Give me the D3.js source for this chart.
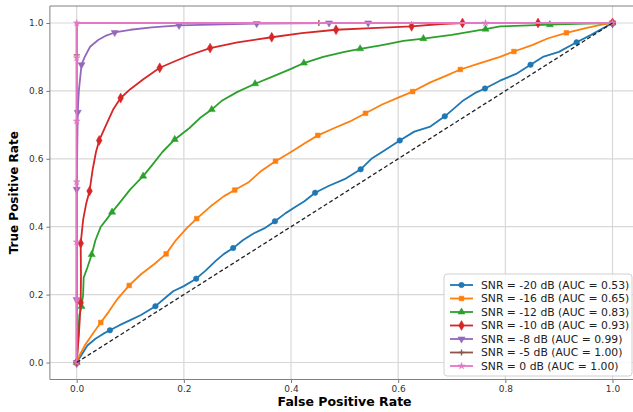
<!DOCTYPE html>
<html>
<head>
<meta charset="utf-8">
<script src="https://cdn.jsdelivr.net/npm/d3@7"></script>
<style>
  body { margin: 0; background: #fff; }
  svg { display: block; font-family: "DejaVu Sans", sans-serif; }
</style>
</head>
<body>
<svg width="633" height="412"></svg>
<script>
const WIDTH = 633
const HEIGHT = 412
const LEFT = 49.9
const RIGHT = 639.3
const TOP = 6
const BOTTOM = 379.5

// legend labels
const labels = [
    "SNR = -20 dB (AUC = 0.53)",
    "SNR = -16 dB (AUC = 0.65)",
    "SNR = -12 dB (AUC = 0.83)",
    "SNR = -10 dB (AUC = 0.93)",
    "SNR = -8 dB (AUC = 0.99)",
    "SNR = -5 dB (AUC = 1.00)",
    "SNR = 0 dB (AUC = 1.00)"
]
const colors = ["#1f77b4", "#ff7f0e", "#2ca02c", "#d62728", "#9467bd", "#8c564b", "#e377c2"]
const markers = ["circle", "square", "up", "diamond", "down", "plus", "star"]
const tickValues = [0, 0.2, 0.4, 0.6, 0.8, 1.0]

// roc curves, [fpr, tpr]
const roc20 = [[0,0],[0.01,0.025],[0.02,0.05],[0.035,0.07],[0.05,0.085],[0.062,0.095],[0.08,0.11],[0.1,0.125],
    [0.12,0.14],[0.147,0.166],[0.165,0.19],[0.18,0.21],[0.2,0.225],[0.223,0.247],[0.24,0.27],[0.26,0.3],
    [0.275,0.32],[0.292,0.337],[0.31,0.36],[0.33,0.38],[0.35,0.395],[0.37,0.416],[0.39,0.44],[0.41,0.46],
    [0.425,0.475],[0.445,0.5],[0.47,0.52],[0.5,0.54],[0.53,0.569],[0.55,0.6],[0.575,0.625],[0.603,0.654],
    [0.63,0.68],[0.66,0.695],[0.687,0.725],[0.72,0.77],[0.745,0.795],[0.762,0.807],[0.79,0.83],[0.82,0.85],
    [0.847,0.877],[0.87,0.9],[0.9,0.915],[0.933,0.943],[0.96,0.965],[1,1]]
const roc20Marks = [[0,0],[0.062,0.095],[0.147,0.166],[0.223,0.247],[0.292,0.337],[0.37,0.416],[0.445,0.5],
    [0.53,0.569],[0.603,0.654],[0.687,0.725],[0.762,0.807],[0.847,0.877],[0.933,0.943],[1,1]]

const roc16 = [[0,0],[0.005,0.02],[0.015,0.05],[0.03,0.085],[0.045,0.118],[0.06,0.15],[0.075,0.185],[0.098,0.227],
    [0.12,0.26],[0.145,0.29],[0.167,0.32],[0.185,0.36],[0.205,0.395],[0.224,0.424],[0.25,0.46],[0.275,0.49],
    [0.295,0.508],[0.32,0.53],[0.345,0.565],[0.371,0.593],[0.4,0.62],[0.425,0.645],[0.45,0.669],[0.48,0.69],
    [0.51,0.71],[0.539,0.734],[0.57,0.76],[0.6,0.78],[0.627,0.798],[0.66,0.825],[0.69,0.845],[0.716,0.863],
    [0.75,0.88],[0.79,0.9],[0.816,0.916],[0.85,0.935],[0.88,0.955],[0.914,0.971],[0.95,0.985],[0.98,0.995],[1,1]]
const roc16Marks = [[0,0],[0.045,0.118],[0.098,0.227],[0.167,0.32],[0.224,0.424],[0.295,0.508],[0.371,0.593],
    [0.45,0.669],[0.539,0.734],[0.627,0.798],[0.716,0.863],[0.816,0.916],[0.914,0.971],[1,1]]

const roc12 = [[0,0],[0.003,0.08],[0.005,0.14],[0.009,0.165],[0.012,0.2],[0.013,0.25],[0.02,0.28],[0.028,0.318],
    [0.035,0.36],[0.045,0.4],[0.055,0.42],[0.066,0.443],[0.08,0.47],[0.1,0.51],[0.124,0.549],[0.14,0.58],
    [0.16,0.62],[0.183,0.657],[0.21,0.69],[0.23,0.72],[0.252,0.745],[0.27,0.77],[0.3,0.797],[0.333,0.821],
    [0.37,0.845],[0.4,0.865],[0.424,0.882],[0.46,0.9],[0.5,0.915],[0.529,0.924],[0.57,0.935],[0.61,0.947],
    [0.647,0.954],[0.7,0.965],[0.763,0.982],[0.79,0.99],[0.883,0.995],[0.95,0.998],[1,1]]
const roc12Marks = [[0,0],[0.009,0.165],[0.028,0.318],[0.066,0.443],[0.124,0.549],[0.183,0.657],[0.252,0.745],
    [0.333,0.821],[0.424,0.882],[0.529,0.924],[0.647,0.954],[0.763,0.982],[0.883,0.995],[1,1]]

const roc10 = [[0,0],[0.004,0.08],[0.0075,0.176],[0.008,0.26],[0.0075,0.351],[0.012,0.42],[0.018,0.47],
    [0.024,0.505],[0.03,0.57],[0.036,0.62],[0.042,0.654],[0.055,0.7],[0.068,0.745],[0.082,0.779],[0.1,0.805],
    [0.125,0.835],[0.155,0.868],[0.18,0.885],[0.21,0.905],[0.249,0.926],[0.3,0.943],[0.364,0.958],[0.42,0.97],
    [0.484,0.98],[0.55,0.985],[0.625,0.99],[0.68,0.997],[0.72,1],[1,1]]
const roc10Marks = [[0,0],[0.0075,0.176],[0.0075,0.351],[0.024,0.505],[0.042,0.654],[0.082,0.779],[0.155,0.868],
    [0.249,0.926],[0.364,0.958],[0.484,0.98],[0.625,0.99],[0.72,1],[0.861,1],[1,1]]

const roc8 = [[0,0],[0,0.185],[0,0.51],[0.002,0.737],[0.004,0.8],[0.009,0.877],[0.015,0.9],[0.025,0.93],
    [0.04,0.95],[0.055,0.963],[0.071,0.972],[0.1,0.98],[0.14,0.987],[0.191,0.993],[0.336,0.998],[0.471,1],[1,1]]
const roc8Marks = [[0,0],[0,0.185],[0,0.51],[0.002,0.737],[0.009,0.877],[0.071,0.972],[0.191,0.993],
    [0.336,0.998],[0.471,1],[0.544,1],[1,1]]

const roc5 = [[0,0],[0,0.906],[0,1],[1,1]]
const roc5Marks = [[0,0],[0,0.906],[0.452,1],[1,1]]

const roc0 = [[0,0],[0,1],[1,1]]
const roc0Marks = [[0,0],[0,0.188],[0,0.355],[0,0.532],[0,0.711],[0,0.897],[0,1],[0.763,1],[1,1]]

const curves = [roc20, roc16, roc12, roc10, roc8, roc5, roc0]
const curveMarks = [roc20Marks, roc16Marks, roc12Marks, roc10Marks, roc8Marks, roc5Marks, roc0Marks]

const series = labels.map((label, i) => ({
    label: label,
    color: colors[i],
    marker: markers[i],
    points: curves[i],
    marks: curveMarks[i]
}))

const svg = d3.select("svg")
svg.append("rect").attr("width", WIDTH).attr("height", HEIGHT).attr("fill", "#fff")

const x = d3.scaleLinear().domain([-0.05, 1.05]).range([LEFT, RIGHT])
const y = d3.scaleLinear().domain([-0.05, 1.05]).range([BOTTOM, TOP])

// grid
const grid = svg.append("g")
    .attr("stroke", "#d8d8d8")
    .attr("stroke-width", 1.2)
grid.selectAll("line.gx")
    .data(tickValues)
    .join("line")
    .classed("gx", true)
    .attr("x1", d => x(d)).attr("x2", d => x(d))
    .attr("y1", TOP).attr("y2", BOTTOM)
grid.selectAll("line.gy")
    .data(tickValues)
    .join("line")
    .classed("gy", true)
    .attr("x1", LEFT).attr("x2", RIGHT)
    .attr("y1", d => y(d)).attr("y2", d => y(d))

// axes
function styleAxis(g) {
    g.select(".domain").remove()
    g.selectAll(".tick line").attr("stroke", "#777")
    g.selectAll(".tick text")
        .attr("fill", "#333")
        .style("font-size", "9px")
        .style("font-family", "DejaVu Sans")
}
svg.append("g")
    .attr("transform", "translate(0," + BOTTOM + ")")
    .call(d3.axisBottom(x).tickValues(tickValues).tickFormat(d3.format(".1f")).tickSize(3.5).tickPadding(3))
    .call(styleAxis)
svg.append("g")
    .attr("transform", "translate(" + LEFT + ",0)")
    .call(d3.axisLeft(y).tickValues(tickValues).tickFormat(d3.format(".1f")).tickSize(3.5).tickPadding(3))
    .call(styleAxis)

// spines (right spine is off canvas)
svg.append("path")
    .attr("d", "M" + RIGHT + "," + TOP + "H" + LEFT + "V" + BOTTOM + "H" + RIGHT)
    .attr("fill", "none")
    .attr("stroke", "#808080")
    .attr("stroke-width", 1)

// marker shapes
function markerPath(type) {
    if (type === "circle") return d3.symbol(d3.symbolCircle, 24)()
    if (type === "square") return d3.symbol(d3.symbolSquare, 22)()
    if (type === "up") return d3.symbol(d3.symbolTriangle, 22)()
    if (type === "down") return d3.symbol(d3.symbolTriangle, 22)()
    if (type === "diamond") return d3.symbol(d3.symbolDiamond, 28)()
    if (type === "star") return d3.symbol(d3.symbolStar, 14)()
    return "M-3,0H3M0,-3V3"
}
function drawMarker(sel, s, tx, ty) {
    sel.append("path")
        .attr("d", markerPath(s.marker))
        .attr("transform", "translate(" + tx + "," + ty + ")" + (s.marker === "down" ? " rotate(180)" : ""))
        .attr("fill", s.marker === "plus" ? "none" : s.color)
        .attr("stroke", s.color)
        .attr("stroke-width", s.marker === "plus" ? 1.3 : 0.5)
}

const line = d3.line().x(d => x(d[0])).y(d => y(d[1]))
const plot = svg.append("g")

series.forEach(s => {
    let g = plot.append("g")
    g.append("path")
        .datum(s.points)
        .attr("d", line)
        .attr("fill", "none")
        .attr("stroke", s.color)
        .attr("stroke-width", 1.8)
        .attr("stroke-linejoin", "round")
    s.marks.forEach(d => drawMarker(g, s, x(d[0]), y(d[1])))
})

// chance line
plot.append("path")
    .datum([[0, 0], [1, 1]])
    .attr("d", line)
    .attr("fill", "none")
    .attr("stroke", "#222")
    .attr("stroke-width", 1.3)
    .attr("stroke-dasharray", "4,2.5")

// axis titles
svg.append("text")
    .attr("x", (LEFT + RIGHT) / 2)
    .attr("y", 406)
    .attr("text-anchor", "middle")
    .style("font-size", "12.5px")
    .style("font-weight", "bold")
    .text("False Positive Rate")
svg.append("text")
    .attr("transform", "translate(18," + ((TOP + BOTTOM) / 2) + ") rotate(-90)")
    .attr("text-anchor", "middle")
    .style("font-size", "12px")
    .style("font-weight", "bold")
    .text("True Positive Rate")

// legend
const legend = svg.append("g").attr("transform", "translate(444,274)")
legend.append("rect")
    .attr("width", 188)
    .attr("height", 102)
    .attr("rx", 3)
    .attr("fill", "#fff")
    .attr("fill-opacity", 0.85)
    .attr("stroke", "#d0d0d0")
    .attr("stroke-width", 1)
const rows = legend.selectAll("g.row")
    .data(series)
    .join("g")
    .classed("row", true)
    .attr("transform", (d, i) => "translate(0," + (11 + i * 13.5) + ")")
rows.append("line")
    .attr("x1", 6).attr("x2", 29)
    .attr("stroke", d => d.color)
    .attr("stroke-width", 1.8)
rows.each(function(s) {
    drawMarker(d3.select(this), s, 17.5, 0)
})
rows.append("text")
    .attr("x", 37)
    .attr("dy", "0.35em")
    .style("font-size", "10.8px")
    .attr("fill", "#222")
    .text(d => d.label)
</script>
</body>
</html>
